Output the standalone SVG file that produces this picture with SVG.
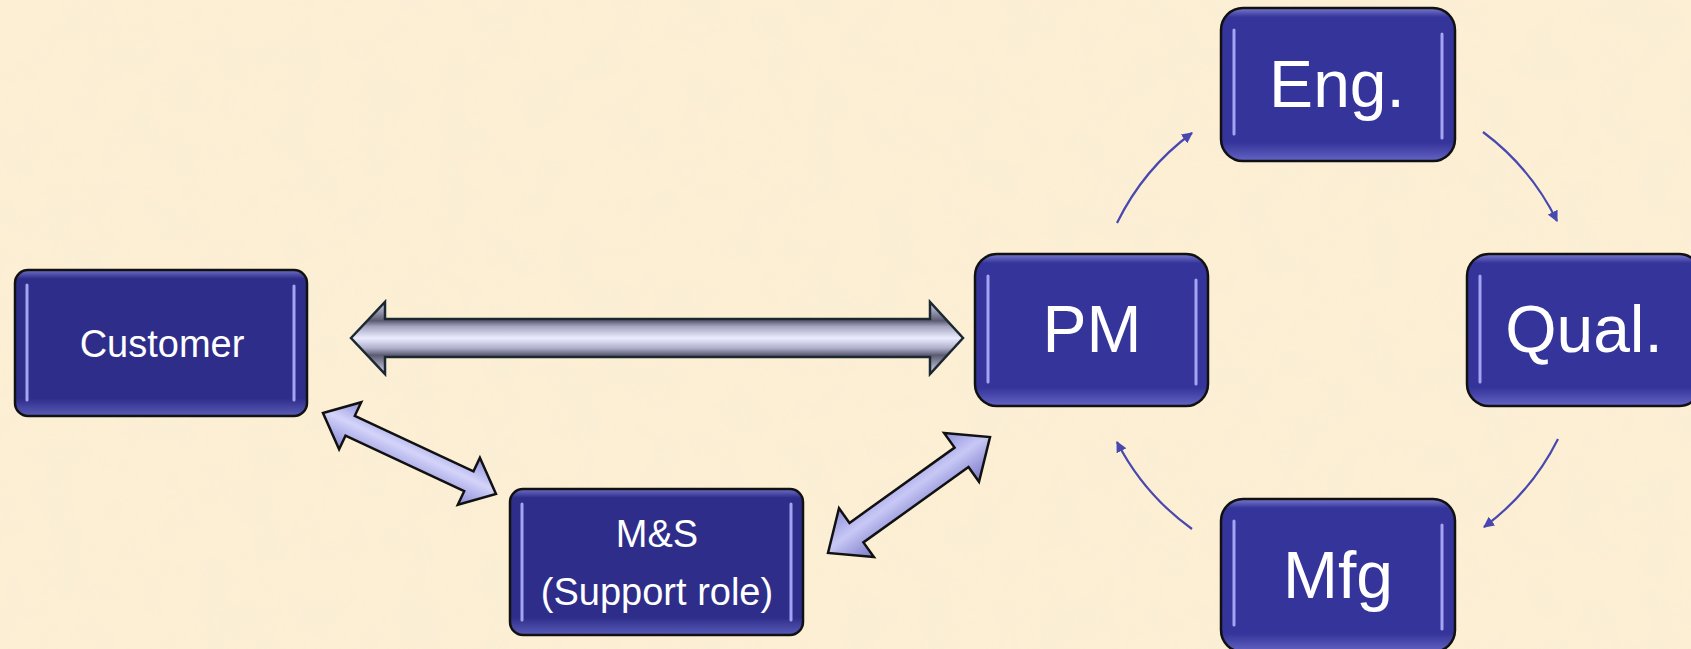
<svg xmlns="http://www.w3.org/2000/svg" width="1691" height="649" viewBox="0 0 1691 649">
<defs>
<style>
.box{stroke:#111;stroke-width:2.5}
.hl{stroke:#a4a4f4;stroke-width:3;stroke-linecap:round;fill:none}
.lbl{font-family:"Liberation Sans",Arial,sans-serif;fill:#fff;text-anchor:middle}
.s{font-size:38px}
.b{font-size:66px}
.cyc{fill:none;stroke:#4848b0;stroke-width:2.2}
</style>
<linearGradient id="boxg" x1="0" y1="0" x2="0" y2="1">
<stop offset="0" stop-color="#7a7ad0"/>
<stop offset="0.06" stop-color="#34349a"/>
<stop offset="0.88" stop-color="#34349a"/>
<stop offset="1" stop-color="#6464c4"/>
</linearGradient>
<linearGradient id="boxg2" x1="0" y1="0" x2="0" y2="1">
<stop offset="0" stop-color="#7070c8"/>
<stop offset="0.06" stop-color="#2e2e8a"/>
<stop offset="0.88" stop-color="#2e2e8a"/>
<stop offset="1" stop-color="#5a5ab8"/>
</linearGradient>
<linearGradient id="bigg" x1="0" y1="302" x2="0" y2="374" gradientUnits="userSpaceOnUse">
<stop offset="0" stop-color="#d8d8f0"/>
<stop offset="0.26" stop-color="#5a5a70"/>
<stop offset="0.34" stop-color="#a4a4c0"/>
<stop offset="0.5" stop-color="#ececff"/>
<stop offset="0.64" stop-color="#b0b0cc"/>
<stop offset="0.74" stop-color="#5a5a72"/>
<stop offset="1" stop-color="#d8d8f0"/>
</linearGradient>
<linearGradient id="a2g" x1="361" y1="402" x2="339" y2="449" gradientUnits="userSpaceOnUse">
<stop offset="0" stop-color="#9090dc"/>
<stop offset="0.45" stop-color="#d4d4fa"/>
<stop offset="1" stop-color="#8a8ad8"/>
</linearGradient>
<linearGradient id="a3g" x1="944" y1="433" x2="979" y2="482" gradientUnits="userSpaceOnUse">
<stop offset="0" stop-color="#9090dc"/>
<stop offset="0.45" stop-color="#c8c8f6"/>
<stop offset="1" stop-color="#7878c8"/>
</linearGradient>
<marker id="ah" viewBox="0 0 10 10" refX="9" refY="5" markerWidth="5" markerHeight="5" orient="auto" markerUnits="strokeWidth">
<path d="M0,0 L10,5 L0,10 z" fill="#4848b0"/>
</marker>
<filter id="tex" x="0" y="0" width="100%" height="100%">
<feTurbulence type="fractalNoise" baseFrequency="0.025" numOctaves="3" seed="4"/>
<feColorMatrix type="matrix" values="0 0 0 0 0.92  0 0 0 0 0.84  0 0 0 0 0.68  0 0 0 1.1 -0.4"/>
</filter>
</defs>
<rect width="1691" height="649" fill="#fcefd4"/>
<rect width="1691" height="649" filter="url(#tex)" opacity="0.6"/>

<g id="connectors">
<polygon points="351,338 385,302 385,319 930,319 930,302 963,338 930,374 930,357 385,357 385,374" fill="url(#bigg)" stroke="#1c2830" stroke-width="2.5" stroke-linejoin="miter"/>
<polygon points="323,413 361.2,402.2 354.8,415.8 473.5,471.3 479.9,457.7 496,494 457.8,504.8 464.2,491.2 345.5,435.7 339.1,449.3" fill="url(#a2g)" stroke="#111" stroke-width="2.5"/>
<polygon points="828,553 839,508.2 849.5,522.9 954.6,447.6 944.1,433 990,437 979,481.8 968.5,467.1 863.4,542.4 873.9,557" fill="url(#a3g)" stroke="#111" stroke-width="2.5"/>
<path class="cyc" d="M1117,223 A246,246 0 0 1 1192,133" marker-end="url(#ah)"/>
<path class="cyc" d="M1483,132 A246,246 0 0 1 1557,221" marker-end="url(#ah)"/>
<path class="cyc" d="M1558,439 A246,246 0 0 1 1484,527" marker-end="url(#ah)"/>
<path class="cyc" d="M1192,529 A246,246 0 0 1 1117,442" marker-end="url(#ah)"/>
</g>

<g id="customer">
<rect class="box" x="15" y="270" width="292" height="146" rx="13" fill="url(#boxg2)"/>
<line class="hl" x1="27" y1="285" x2="27" y2="400"/>
<line class="hl" x1="294" y1="286" x2="294" y2="400"/>
<text class="lbl s" x="162" y="357">Customer</text>
</g>

<g id="ms">
<rect class="box" x="510" y="489" width="293" height="146" rx="13" fill="url(#boxg2)"/>
<line class="hl" x1="522" y1="504" x2="522" y2="620"/>
<line class="hl" x1="791" y1="504" x2="791" y2="620"/>
<text class="lbl s" x="657" y="547">M&amp;S</text>
<text class="lbl s" x="657" y="605">(Support role)</text>
</g>

<g id="pm">
<rect class="box" x="975" y="254" width="233" height="152" rx="22" fill="url(#boxg)"/>
<line class="hl" x1="988" y1="276" x2="988" y2="382"/>
<line class="hl" x1="1196" y1="280" x2="1196" y2="384"/>
<text class="lbl b" x="1092" y="352">PM</text>
</g>

<g id="eng">
<rect class="box" x="1221" y="8" width="234" height="153" rx="22" fill="url(#boxg)"/>
<line class="hl" x1="1234" y1="30" x2="1234" y2="134"/>
<line class="hl" x1="1442" y1="34" x2="1442" y2="138"/>
<text class="lbl b" x="1337" y="107">Eng.</text>
</g>

<g id="qual">
<rect class="box" x="1467" y="254" width="234" height="152" rx="22" fill="url(#boxg)"/>
<line class="hl" x1="1480" y1="276" x2="1480" y2="382"/>
<text class="lbl b" x="1584" y="352">Qual.</text>
</g>

<g id="mfg">
<rect class="box" x="1221" y="499" width="234" height="153" rx="22" fill="url(#boxg)"/>
<line class="hl" x1="1234" y1="521" x2="1234" y2="625"/>
<line class="hl" x1="1442" y1="525" x2="1442" y2="629"/>
<text class="lbl b" x="1338" y="598">Mfg</text>
</g>
</svg>
